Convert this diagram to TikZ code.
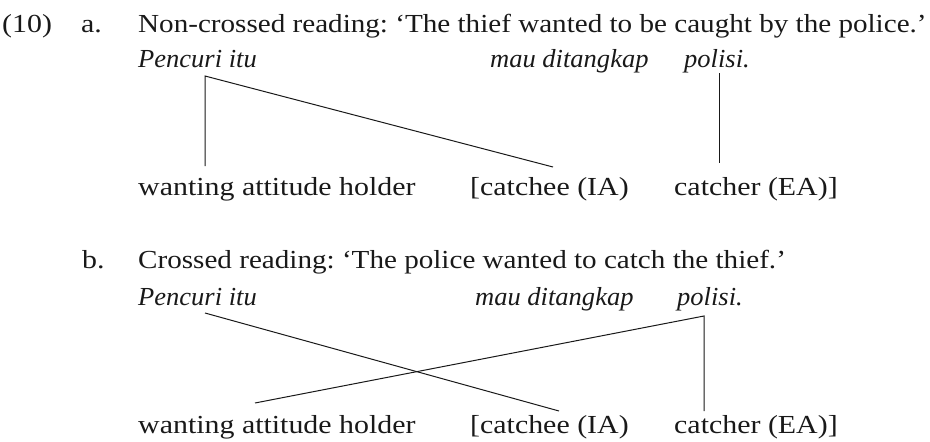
\documentclass[tikz,border=0pt]{standalone}
\usepackage{fontspec}
\setmainfont{Liberation Serif}[FakeStretch=1.15]
\newfontfamily\titlefont{Liberation Serif}[FakeStretch=1.12,Ligatures=TeX]
\newfontfamily\glossfont{Liberation Serif}[FakeStretch=1.02]
\usepackage{tikz}
\frenchspacing

\begin{document}
\begin{tikzpicture}[x=1pt,y=-1pt,
	txt/.style={anchor=base west,inner sep=0pt,text=black!90,font=\fontsize{26}{30}\selectfont},
	head/.style={txt,font=\fontsize{26}{30}\selectfont\titlefont},
	gloss/.style={txt,font=\fontsize{26}{30}\selectfont\glossfont\itshape},
	link/.style={black!90,line width=1pt}]
			\useasboundingbox (0,0) rectangle (930,442);
			
			% (10a)
			\node[txt] (num) at (2,32) {(10)};
			\node[txt] (la) at (81,32) {a.};
			\node[head] (ta) at (138,32) {Non-crossed reading: ‘The thief wanted to be caught by the police.’};
			\node[gloss] (pena) at (138,67) {Pencuri itu};
			\node[gloss] (maua) at (490,67) {mau ditangkap};
			\node[gloss] (pola) at (684,67) {polisi.};
			\node[txt] (wanta) at (138,195) {wanting attitude holder};
			\node[txt] (catcheea) at (470,195) {[catchee (IA)};
			\node[txt] (catchera) at (674,195) {catcher (EA)]};
			\coordinate (PA) at (205,76);
			\coordinate (WA) at (205,166);
			\coordinate (EA) at (553,167);
			\coordinate (QA) at (719,73);
			\coordinate (CA) at (719,163);
			\draw[link] (WA) -- (PA) -- (EA);
			\draw[link] (QA) -- (CA);
			
			% (10b)
			\node[txt] (lb) at (82,268) {b.};
			\node[head] (tb) at (138,268) {Crossed reading: ‘The police wanted to catch the thief.’};
			\node[gloss] (penb) at (138,305) {Pencuri itu};
			\node[gloss] (maub) at (475,305) {mau ditangkap};
			\node[gloss] (polb) at (677,305) {polisi.};
			\node[txt] (wantb) at (138,433) {wanting attitude holder};
			\node[txt] (catcheeb) at (470,433) {[catchee (IA)};
			\node[txt] (catcherb) at (674,433) {catcher (EA)]};
			\coordinate (PB) at (205,313);
			\coordinate (EB) at (559,411);
			\coordinate (WB) at (255,403);
			\coordinate (QB) at (704,316);
			\coordinate (CB) at (704,411);
			\draw[link] (PB) -- (EB);
			\draw[link] (WB) -- (QB) -- (CB);
\end{tikzpicture}
\end{document}
